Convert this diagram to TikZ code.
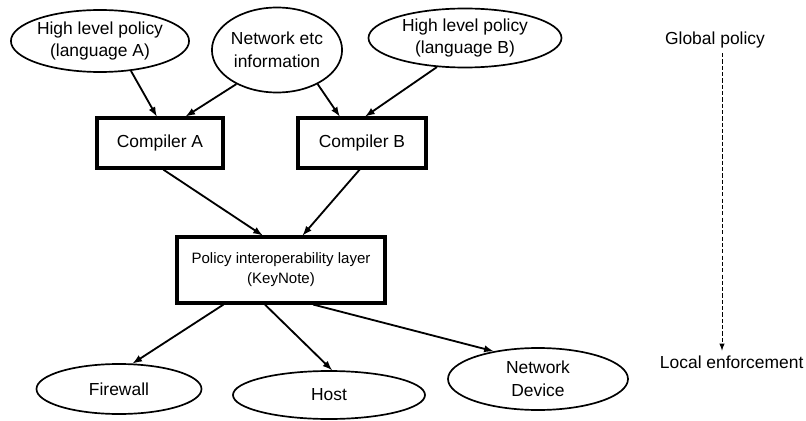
\documentclass[tikz,border=0pt]{standalone}
\usepackage{fontspec}
\setmainfont{Liberation Sans}
\usetikzlibrary{shapes.geometric}
\tikzset{
  >=latex,
}
\tikzstyle{every node}=[font=\fontsize{12.4}{16}\selectfont]
\tikzstyle{blob}=[draw,ellipse,line width=1.2pt,inner sep=0pt,align=center]
\tikzstyle{block}=[draw,rectangle,line width=2.2pt,inner sep=0pt,align=center]
\tikzstyle{flow}=[line width=1.3pt,->]

\begin{document}
\begin{tikzpicture}
    \useasboundingbox (0,0) rectangle (20.15,10.5);
    \node[blob,minimum width=4.375cm,minimum height=1.55cm] (hla) at (2.5,9.475) {High level policy\\(language A)};
    \node[blob,minimum width=2.775cm,minimum height=2.125cm] (net) at (6.925,9.25) {Network etc\\information};
    \node[blob,minimum width=4.825cm,minimum height=1.475cm] (hlb) at (11.625,9.55) {High level policy\\(language B)};
    \node[block,minimum width=3.15cm,minimum height=1.25cm] (compa) at (4.0,6.925) {Compiler A};
    \node[block,minimum width=3.2cm,minimum height=1.25cm] (compb) at (9.05,6.925) {Compiler B};
    \node[block,minimum width=5.2cm,minimum height=1.65cm,font=\fontsize{10.7}{14.2}\selectfont] (layer) at (7.025,3.75) {Policy interoperability layer\\(KeyNote)};
    \node[blob,minimum width=4.125cm,minimum height=1.25cm] (fw) at (2.975,0.775) {Firewall};
    \node[blob,minimum width=4.8cm,minimum height=1.2cm] (host) at (8.225,0.625) {Host};
    \node[blob,minimum width=4.5cm,minimum height=1.55cm] (nd) at (13.45,1.025) {Network\\Device};
    \node (global) at (17.875,9.5) {Global policy};
    \node[anchor=west] (local) at (16.375,1.45) {Local enforcement};
    \draw[flow] (hla.-44) -- (compa.97);
    \draw[flow] (net.-140) -- (compa.46);
    \draw[flow] (net.-40) -- (compb.130);
    \draw[flow] (hlb.-134) -- (compb.83);
    \draw[flow] (compa.-83) -- (layer.118);
    \draw[flow] (compb.-95) -- (layer.58);
    \draw[flow] (layer.211) -- (fw.62);
    \draw[flow] (layer.245) -- (host.83);
    \draw[flow] (layer.-47) -- (nd.148);
    \draw[->,dash pattern=on 3pt off 1.5pt,line width=0.7pt] ([xshift=1.75mm]global.south) -- ([xshift=1.75mm]global.south |- local.north);
\end{tikzpicture}
\end{document}
